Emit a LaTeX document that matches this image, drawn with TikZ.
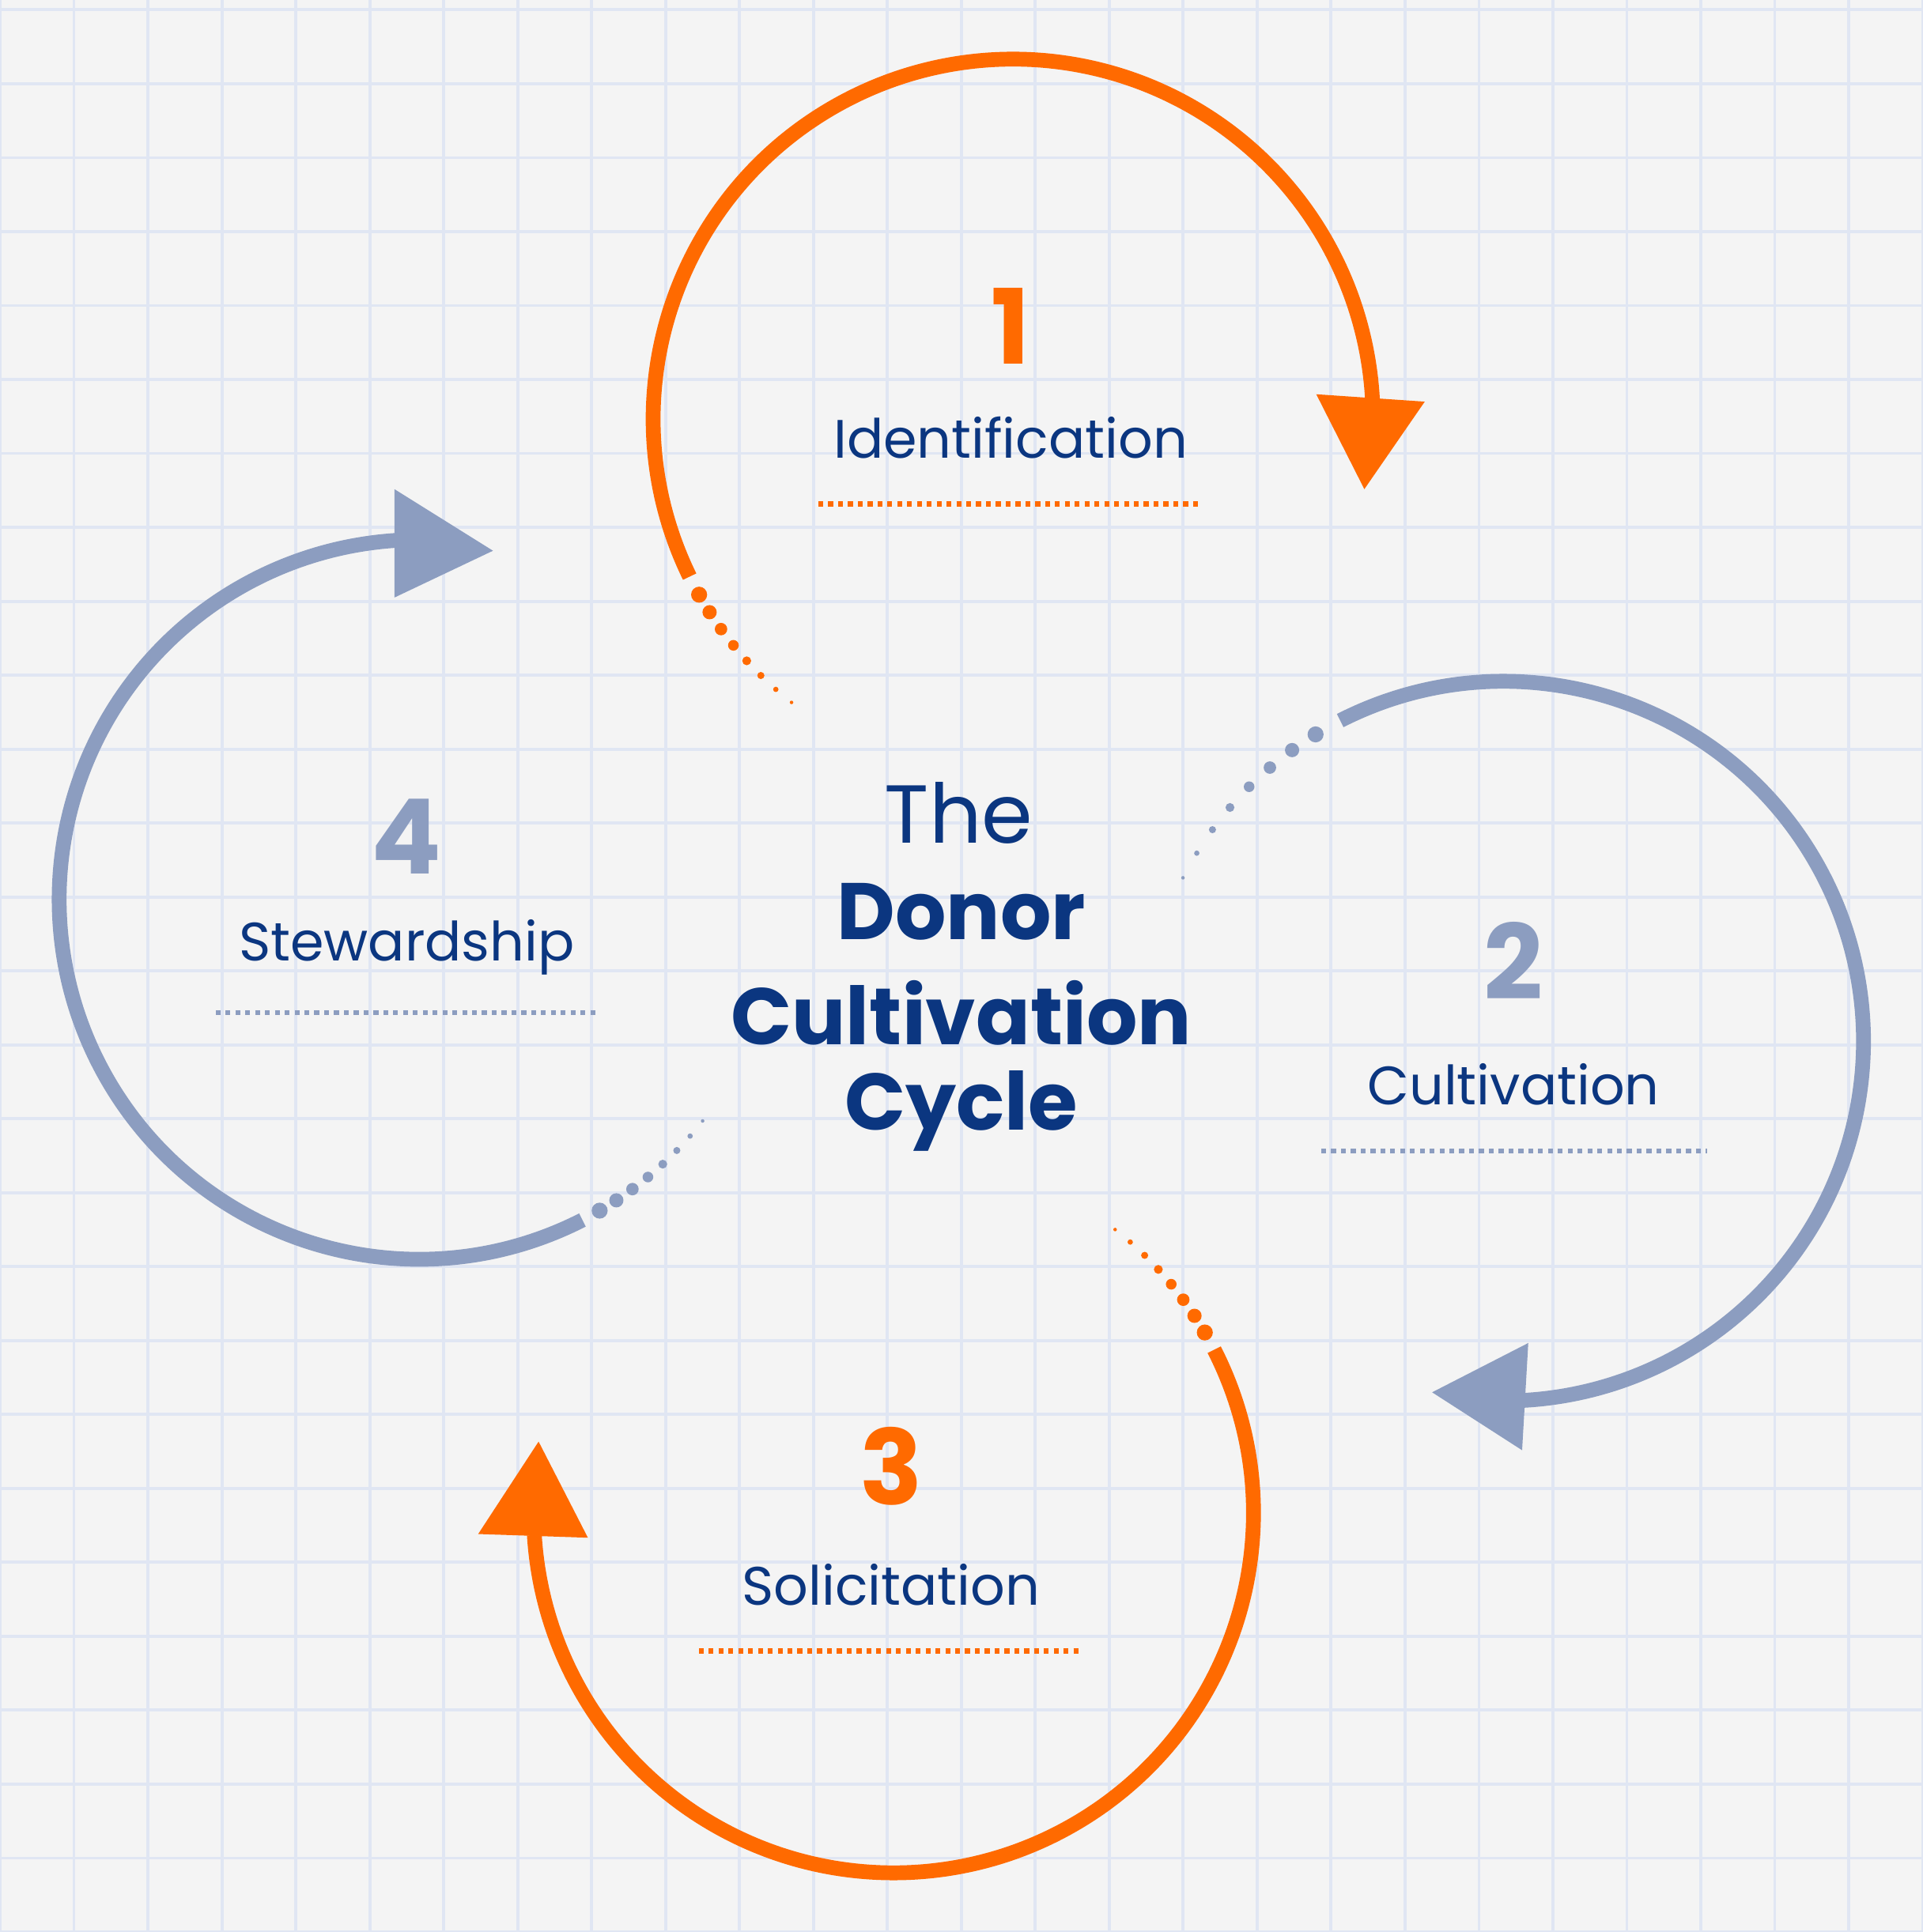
\documentclass[tikz,border=0pt]{standalone}
\usepackage{fontspec}
\setmainfont{Poppins}
\usetikzlibrary{arrows.meta,calc}
\definecolor{cycOrange}{HTML}{FF6A00}
\definecolor{cycGray}{HTML}{8C9DC0}
\definecolor{cycNavy}{HTML}{0B3680}
\definecolor{paperBg}{HTML}{F4F4F4}
\definecolor{gridBlue}{HTML}{E0E6F3}
\tikzset{
	cycarc/.style={line width=1.2mm},
	stepnum/.style={font=\bfseries\fontsize{24}{28}\selectfont},
	steplab/.style={text=cycNavy, font=\fontsize{12.5}{15}\selectfont},
	underl/.style={line width=0.4mm, dash pattern=on 0.4mm off 0.4mm},
	title/.style={text=cycNavy, font=\bfseries\fontsize{18.5}{22}\selectfont}
}
% dotted tail: center, start angle, end angle, colour
\newcommand{\dottail}[4]{
	\foreach \i in {1,...,8}
		\fill[#4] ($(#1)+({#2+(#3-#2)*\i/8}:2.92)$) circle ({0.065*(1-(\i-1)/9)});
}
\begin{document}
\begin{tikzpicture}
	\useasboundingbox (0,0) rectangle (15.6,15.68);
	\fill[paperBg] (0,0) rectangle (15.6,15.68);
	\draw[gridBlue, line width=0.25mm] (0,0) grid[step=0.6] (15.6,15.68);
	\coordinate (c1) at (8.22,12.28);
	\coordinate (c2) at (12.20,7.23);
	\coordinate (c3) at (7.25,3.40);
	\coordinate (c4) at (3.40,8.38);
	% arcs
	\draw[cycarc, cycOrange] ($(c1)+(206:2.92)$) arc[start angle=206, end angle=2, radius=2.92];
	\fill[cycOrange] (10.68,12.48) -- (11.56,12.42) -- (11.07,11.71) -- cycle;
	\draw[cycarc, cycGray] ($(c2)+(117:2.92)$) arc[start angle=117, end angle=-87, radius=2.92];
	\fill[cycGray] (12.40,4.78) -- (11.62,4.38) -- (12.35,3.91) -- cycle;
	\draw[cycarc, cycOrange] ($(c3)+(27:2.92)$) arc[start angle=27, end angle=-176.5, radius=2.92];
	\fill[cycOrange] (3.88,3.23) -- (4.77,3.20) -- (4.37,3.98) -- cycle;
	\draw[cycarc, cycGray] ($(c4)+(-63:2.92)$) arc[start angle=-63, end angle=-266.5, radius=2.92];
	\fill[cycGray] (3.20,11.71) -- (4.00,11.21) -- (3.20,10.83) -- cycle;
	\dottail{c1}{206}{232}{cycOrange}
	\dottail{c2}{117}{153}{cycGray}
	\dottail{c3}{27}{52}{cycOrange}
	\dottail{c4}{-63}{-38}{cycGray}
	% steps
	\node[stepnum, text=cycOrange] (n1) at (8.20,13.03) {1};
	\node[steplab] (l1) at (8.20,12.13) {Identification};
	\draw[underl, cycOrange] (6.64,11.59) -- (9.75,11.59);
	\node[stepnum, text=cycGray] (n2) at (12.28,7.88) {2};
	\node[steplab] (l2) at (12.28,6.88) {Cultivation};
	\draw[underl, cycGray] (10.72,6.34) -- (13.85,6.34);
	\node[stepnum, text=cycOrange] (n3) at (7.23,3.78) {3};
	\node[steplab] (l3) at (7.23,2.82) {Solicitation};
	\draw[underl, cycOrange] (5.67,2.28) -- (8.78,2.28);
	\node[stepnum, text=cycGray] (n4) at (3.30,8.89) {4};
	\node[steplab] (l4) at (3.30,7.99) {Stewardship};
	\draw[underl, cycGray] (1.75,7.46) -- (4.85,7.46);
	% title
	\node[text=cycNavy, font=\fontsize{19}{22}\selectfont] (the) at (7.78,9.08) {The};
	\node[title] (t1) at (7.80,8.28) {Donor};
	\node[title] (t2) at (7.80,7.46) {Cultivation};
	\node[title] (t3) at (7.80,6.66) {Cycle};
\end{tikzpicture}
\end{document}
